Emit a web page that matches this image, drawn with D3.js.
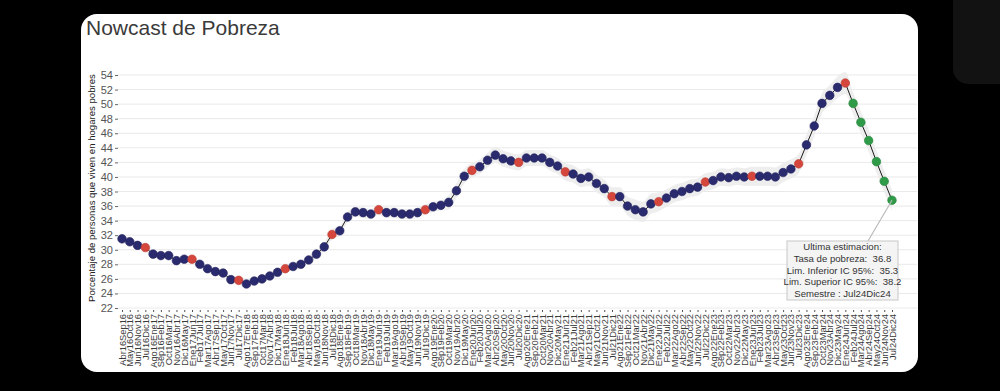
<!DOCTYPE html>
<html><head><meta charset="utf-8">
<script src="https://cdn.jsdelivr.net/npm/d3@7"></script>
<style>
html,body{margin:0;padding:0;background:#000;}
svg{display:block;font-family:"Liberation Sans",Arial,sans-serif;}
</style></head>
<body>
<svg id="c" width="1000" height="391"></svg>
<script>
const categories = [
"Abr16Sep16","May16Oct16","Jun16Nov16","Jul16Dic16","Ago16Ene17","Sep16Feb17","Oct16Mar17","Nov16Abr17","Dic16May17","Ene17Jun17",
"Feb17Jul17","Mar17Ago17","Abr17Sep17","May17Oct17","Jun17Nov17","Jul17Dic17","Ago17Ene18","Sep17Feb18","Oct17Mar18","Nov17Abr18",
"Dic17May18","Ene18Jun18","Feb18Jul18","Mar18Ago18","Abr18Sep18","May18Oct18","Jun18Nov18","Jul18Dic18","Ago18Ene19","Sep18Feb19",
"Oct18Mar19","Nov18Abr19","Dic18May19","Ene19Jun19","Feb19Jul19","Mar19Ago19","Abr19Sep19","May19Oct19","Jun19Nov19","Jul19Dic19",
"Ago19Ene20","Sep19Feb20","Oct19Mar20","Nov19Abr20","Dic19May20","Ene20Jun20","Feb20Jul20","Mar20Ago20","Abr20Sep20","May20Oct20",
"Jun20Nov20","Jul20Dic20","Ago20Ene21","Sep20Feb21","Oct20Mar21","Nov20Abr21","Dic20May21","Ene21Jun21","Feb21Jul21","Mar21Ago21",
"Abr21Sep21","May21Oct21","Jun21Nov21","Jul21Dic21","Ago21Ene22","Sep21Feb22","Oct21Mar22","Nov21Abr22","Dic21May22","Ene22Jun22",
"Feb22Jul22","Mar22Ago22","Abr22Sep22","May22Oct22","Jun22Nov22","Jul22Dic22","Ago22Ene23","Sep22Feb23","Oct22Mar23","Nov22Abr23",
"Dic22May23","Ene23Jun23","Feb23Jul23","Mar23Ago23","Abr23Sep23","May23Oct23","Jun23Nov23","Jul23Dic23","Ago23Ene24","Sep23Feb24",
"Oct23Mar24","Nov23Abr24","Dic23May24","Ene24Jun24","Feb24Jul24","Mar24Ago24","Abr24Sep24","May24Oct24","Jun24Nov24","Jul24Dic24"];

const povertyRate = [
31.5,31.1,30.6,30.3,29.4,29.2,29.2,28.5,28.7,28.7,
28.0,27.4,27.0,26.8,25.9,25.8,25.3,25.7,26.0,26.4,
26.9,27.4,27.7,28.0,28.6,29.4,30.4,32.1,32.6,34.5,
35.2,35.1,34.9,35.5,35.1,35.1,34.9,34.9,35.1,35.5,
35.9,36.1,36.5,38.1,40.1,40.9,41.4,42.3,43.0,42.5,
42.2,42.0,42.6,42.6,42.6,42.0,41.5,40.7,40.4,39.8,
40.0,39.1,38.4,37.3,37.3,36.0,35.5,35.2,36.3,36.6,
37.1,37.7,38.0,38.4,38.6,39.3,39.5,40.0,39.9,40.1,
40.0,40.1,40.1,40.1,40.0,40.6,41.1,41.8,44.4,47.0,
50.1,51.2,52.3,52.9,50.1,47.5,45.0,42.1,39.4,36.8];

const ciHalfWidth = [
0.5,0.5,0.5,0.5,0.5,0.5,0.5,0.5,0.5,0.5,
0.5,0.5,0.5,0.5,0.5,0.5,0.5,0.5,0.5,0.5,
0.5,0.5,0.5,0.5,0.5,0.5,0.5,0.7,0.7,0.7,
0.7,0.7,0.7,0.7,0.7,0.7,0.7,0.7,0.7,0.7,
0.7,0.7,1.0,1.0,1.0,1.0,1.0,1.0,1.1,1.1,
1.1,1.1,1.1,1.1,1.1,1.1,1.1,1.2,1.2,1.2,
1.2,1.2,1.2,1.3,1.3,1.3,1.4,1.4,1.4,1.3,
1.2,1.2,1.2,1.2,1.2,1.2,1.2,1.2,1.2,1.2,
1.2,1.3,1.3,1.3,1.3,1.3,1.3,1.3,1.4,1.4,
1.4,1.4,1.5,1.5,1.5,1.5,1.5,1.5,1.5,1.45];

const yTicks = [22,24,26,28,30,32,34,36,38,40,42,44,46,48,50,52,54];
const officialEnds = ["Jun","Dic"];
const nowcastStart = "Feb24Jul24";
const lastLower = 35.3, lastUpper = 38.2;

const svg = d3.select("#c");
svg.append("rect").attr("x",953).attr("y",-20).attr("width",80).attr("height",104).attr("rx",15).attr("fill","#121212");
svg.append("rect").attr("x",81).attr("y",14).attr("width",837).attr("height",358).attr("rx",16).attr("fill","#fff");

const x = d3.scalePoint().domain(categories).range([122,892]);
const y = d3.scaleLinear().domain([22,54]).range([308,75]);

svg.append("text").attr("x",86).attr("y",35).attr("font-size",21).attr("fill","#3a3a3a").text("Nowcast de Pobreza");

svg.append("g").selectAll("line").data(yTicks).join("line")
  .attr("x1",118).attr("x2",917).attr("y1",d=>y(d)).attr("y2",d=>y(d))
  .attr("stroke","#e9e9e9").attr("stroke-width",1);

const ya = svg.append("g").attr("transform","translate(118,0)")
  .call(d3.axisLeft(y).tickValues(yTicks).tickSize(3).tickPadding(2).tickFormat(d3.format("d")));
ya.select(".domain").remove();
ya.selectAll("line").attr("stroke","#666");
ya.selectAll("text").attr("font-size",11).attr("fill","#555").attr("font-family","Liberation Sans, Arial, sans-serif");

svg.append("text").attr("transform","translate(95,188) rotate(-90)").attr("text-anchor","middle")
  .attr("font-size",9.6).attr("fill","#222").text("Porcentaje de personas que viven en hogares pobres");

const xa = svg.append("g").attr("transform","translate(0,310)")
  .call(d3.axisBottom(x).tickSize(2).tickPadding(3));
xa.select(".domain").remove();
xa.selectAll("line").attr("stroke","#555");
xa.selectAll("text").attr("font-size",9.3).attr("fill","#3a3a3a").attr("font-family","Liberation Sans, Arial, sans-serif")
  .attr("text-anchor","end").attr("dy",null).attr("transform","translate(3,4) rotate(-90)").attr("x",0).attr("y",0);

const data = categories.map((c,i)=>({c, v:povertyRate[i], h:ciHalfWidth[i], i}));
const nStart = categories.indexOf(nowcastStart);

const area = d3.area().x(d=>x(d.c)).y0(d=>y(d.v-d.h)).y1(d=>y(d.v+d.h)).curve(d3.curveMonotoneX);
svg.append("path").datum(data).attr("d",area).attr("fill","#ececec").attr("opacity",0.9);

const line = d3.line().x(d=>x(d.c)).y(d=>y(d.v));
svg.append("path").datum(data).attr("d",line).attr("fill","none").attr("stroke","#1a1a1a").attr("stroke-width",1);

const colorOf = d => d.i >= nStart ? "#2f9a48" : (officialEnds.includes(d.c.slice(-5,-2)) ? "#d5463c" : "#2a2a6e");
svg.append("g").selectAll("circle").data(data).join("circle")
  .attr("cx",d=>x(d.c)).attr("cy",d=>y(d.v)).attr("r",4.3)
  .attr("fill",colorOf).attr("stroke",d=>d3.color(colorOf(d)).darker(0.4)).attr("stroke-width",0.6);

const last = data[data.length-1];
const bx=787, by=241, bw=111, bh=59;
svg.append("line").attr("x1",x(last.c)).attr("y1",y(last.v)).attr("x2",868).attr("y2",by)
  .attr("stroke","#bbb").attr("stroke-width",1.2);
svg.append("rect").attr("x",bx).attr("y",by).attr("width",bw).attr("height",bh)
  .attr("fill","#f3f3f3").attr("fill-opacity",0.92).attr("stroke","#c8c8c8");
const lines = ["Ultima estimacion:",
  "Tasa de pobreza:  " + last.v.toFixed(1),
  "Lim. Inferior IC 95%:  " + lastLower.toFixed(1),
  "Lim. Superior IC 95%:  " + lastUpper.toFixed(1),
  "Semestre : " + last.c];
svg.append("g").selectAll("text").data(lines).join("text")
  .attr("x",bx+bw/2).attr("y",(d,i)=>by+9+i*11.8).attr("text-anchor","middle")
  .attr("font-size",9.6).attr("fill","#333").style("white-space","pre").text(d=>d);
</script>
</body></html>
